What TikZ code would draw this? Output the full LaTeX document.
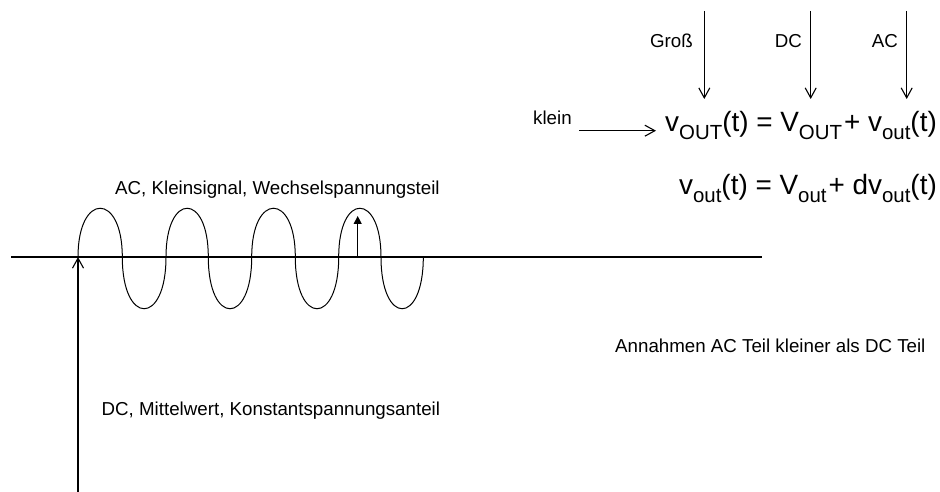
\documentclass[tikz,border=0pt]{standalone}
\usepackage{fontspec}
\setmainfont{Liberation Sans}
\usetikzlibrary{arrows.meta}
\newcommand\lowsub[1]{\raisebox{-8bp}{\fontsize{20.5}{21}\selectfont #1}}
\newcommand\pluskern{\kern2bp+}
\tikzset{
  x=1bp, y=-1bp,
  lbl/.style={inner sep=0pt, font=\fontsize{18.8}{20}\selectfont},
  eqn/.style={inner sep=0pt, font=\fontsize{28}{30}\selectfont},
  ln/.style={line width=1.2bp, black},
  openarr/.style={ln, -{Straight Barb[length=10bp,width=11bp,line width=1.1bp]}},
  fillarr/.style={ln, -{Triangle[length=8bp,width=8bp]}},
  wave/.style={line width=1bp, black}
}
\begin{document}
\begin{tikzpicture}
\useasboundingbox (0,0) rectangle (940,492);
% axis
\coordinate (axL) at (11,257);
\coordinate (axR) at (762,257);
\draw[ln] (axL) -- (axR);
% DC arrow
\coordinate (dcB) at (78,492);
\coordinate (dcT) at (78,257);
\draw[openarr] (dcB) -- (dcT);
% wave
\draw[wave] (78,257)
  .. controls (78,192) and (122.3,192) .. (122.3,257)
  .. controls (122.3,326) and (166,326) .. (166,257)
  .. controls (166,192) and (208.3,192) .. (208.3,257)
  .. controls (208.3,326) and (251.7,326) .. (251.7,257)
  .. controls (251.7,192) and (295.3,192) .. (295.3,257)
  .. controls (295.3,326) and (338.7,326) .. (338.7,257)
  .. controls (338.7,192) and (381,192) .. (381,257)
  .. controls (381,326) and (423.3,326) .. (423.3,257);
% small AC arrow
\coordinate (acB) at (357.7,257);
\coordinate (acT) at (357.7,216);
\draw[fillarr] (acB) -- (acT);
% labels
\node[lbl, anchor=base west] (aclbl) at (115,195) {AC, Kleinsignal, Wechselspannungsteil};
\node[lbl, anchor=base west] (dclbl) at (101.5,415) {DC, Mittelwert, Konstantspannungsanteil};
\node[lbl, anchor=base west] (ann) at (615,353) {Annahmen AC Teil kleiner als DC Teil};
% equations
\node[eqn, anchor=base east] (eq1) at (937,131.7) {v\lowsub{OUT}(t) = V\lowsub{OUT}\pluskern{} v\lowsub{out}(t)};
\node[eqn, anchor=base east] (eq2) at (937,195) {v\lowsub{out}(t) = V\lowsub{out}\pluskern{} dv\lowsub{out}(t)};
% top labels and arrows
\node[lbl, anchor=base east] (gross) at (693,48) {Groß};
\node[lbl, anchor=base east] (dctop) at (802,48) {DC};
\node[lbl, anchor=base east] (actop) at (898,48) {AC};
\coordinate (g1) at (704.3,11); \coordinate (g2) at (704.3,99);
\coordinate (d1) at (810.7,11); \coordinate (d2) at (810.7,99);
\coordinate (a1) at (906.7,11); \coordinate (a2) at (906.7,99);
\draw[openarr] (g1) -- (g2);
\draw[openarr] (d1) -- (d2);
\draw[openarr] (a1) -- (a2);
\node[lbl, anchor=base west] (klein) at (533,125) {klein};
\coordinate (k1) at (579,130.7);
\coordinate (k2) at (656,130.7);
\draw[openarr] (k1) -- (k2);
\end{tikzpicture}
\end{document}
